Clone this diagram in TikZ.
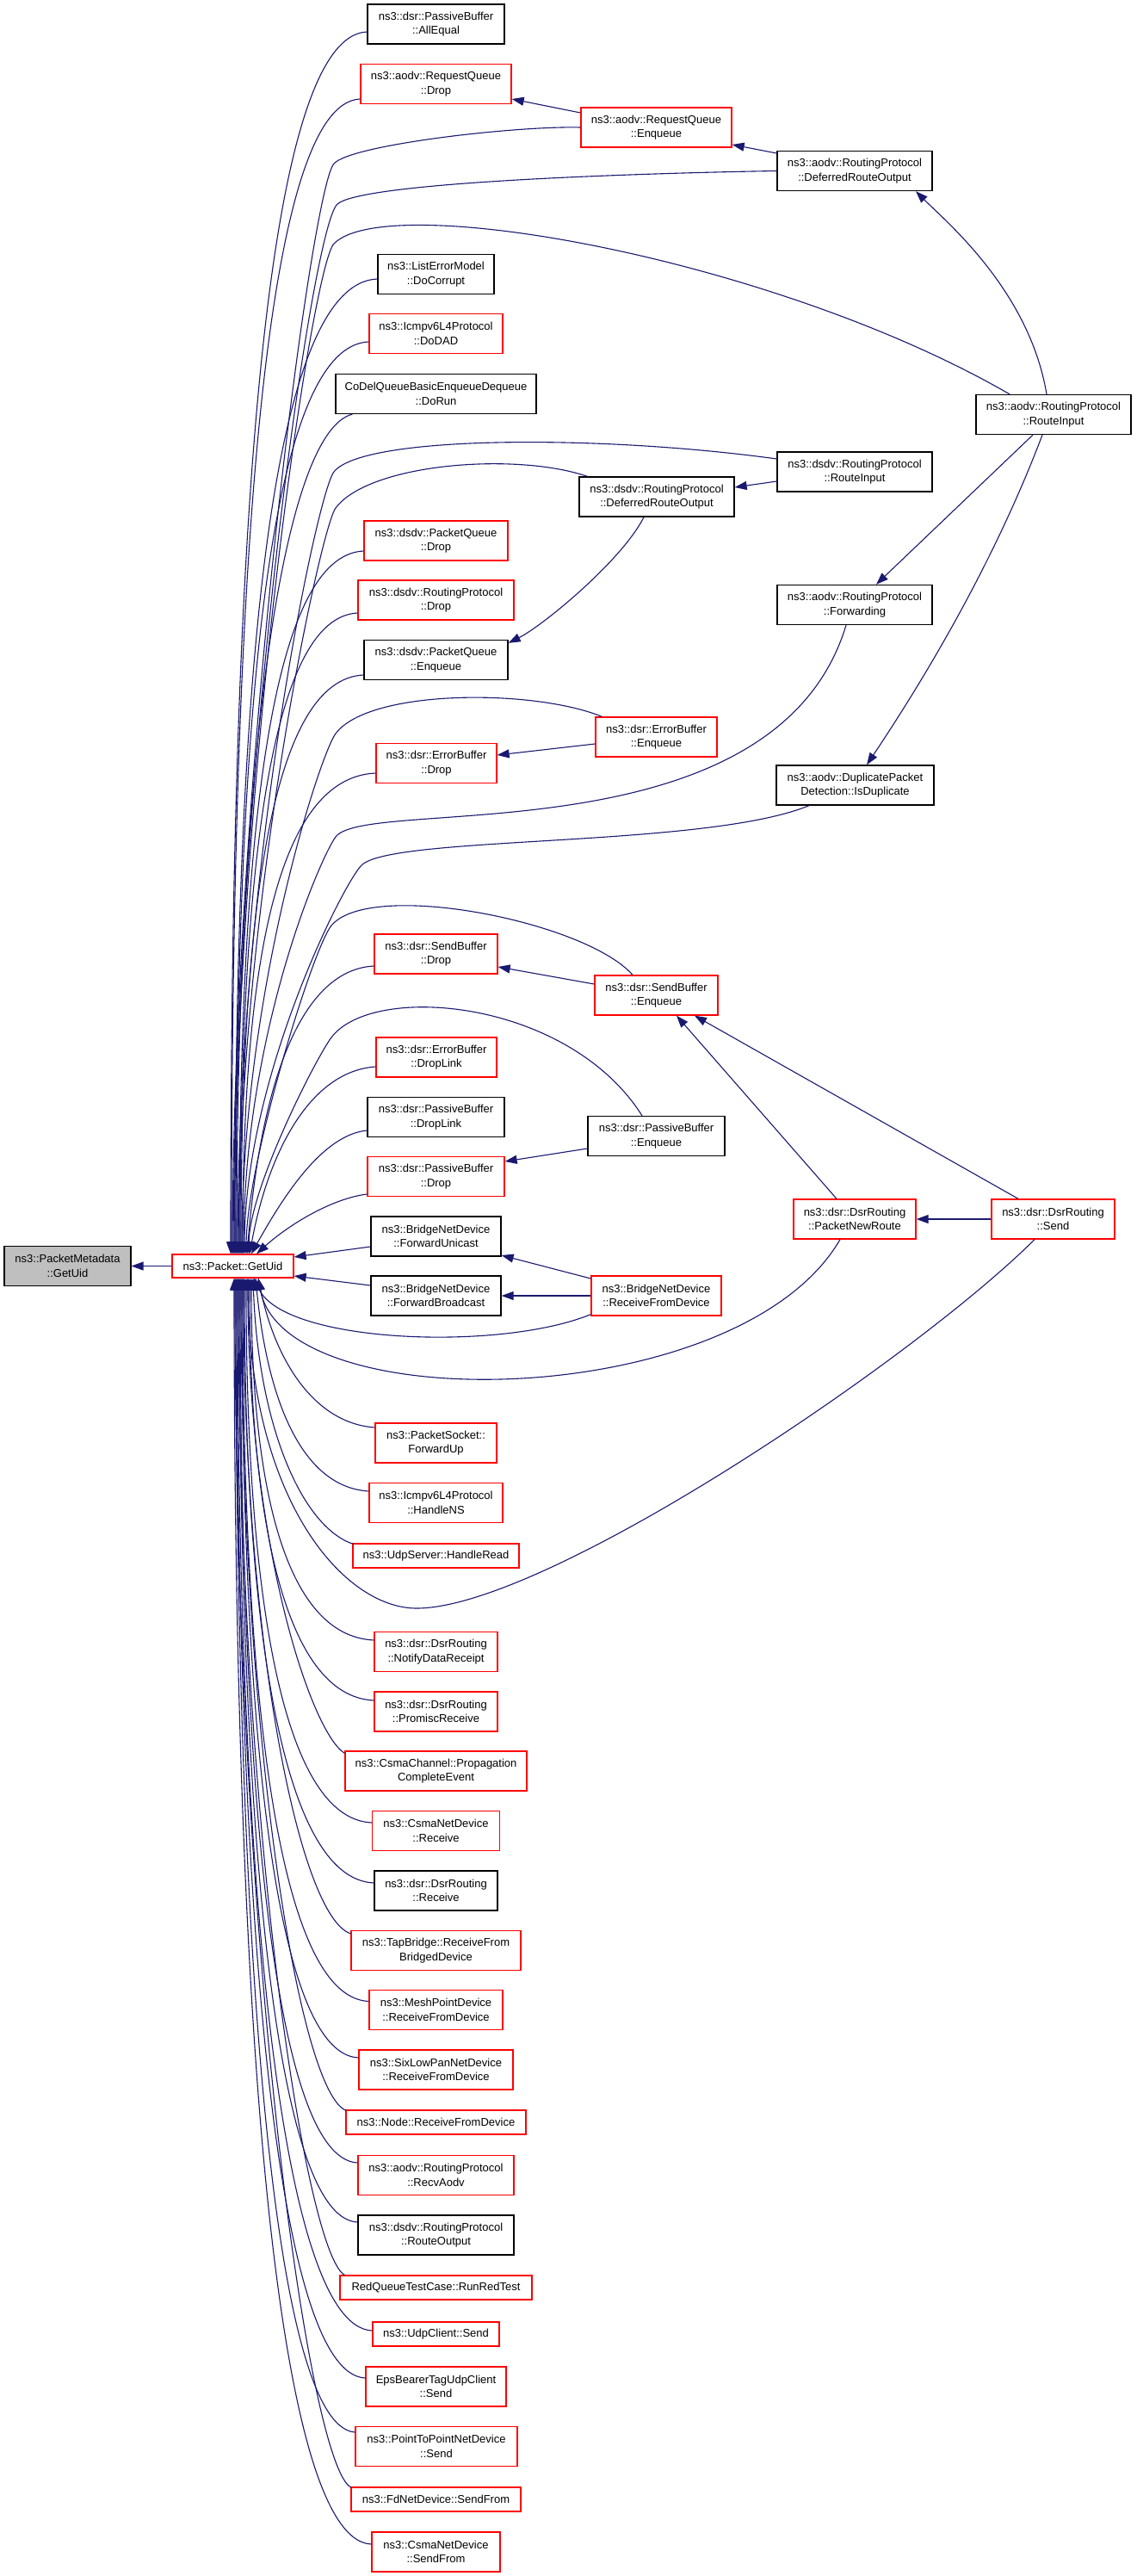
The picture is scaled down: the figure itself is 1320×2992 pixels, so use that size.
\documentclass[tikz,border=0pt]{standalone}
\usepackage{fontspec}
\setmainfont{Liberation Sans}
\usetikzlibrary{arrows.meta}
\definecolor{edgeblue}{HTML}{191970}
\definecolor{nodegray}{HTML}{BFBFBF}
\definecolor{nodered}{HTML}{FF0000}
\begin{document}
\begin{tikzpicture}[x=1pt,y=-1pt,
  box/.style={draw=black, fill=white, line width=1.3pt, inner sep=0pt, align=center, font=\fontsize{13}{16.5}\selectfont},
  rbox/.style={box, draw=nodered},
  gbox/.style={box, fill=nodegray},
  edg/.style={draw=edgeblue, line width=1.1pt, {Triangle[length=14pt,width=10pt]}-},
]
\fill[white] (0,0) rectangle (1320,2992);
\useasboundingbox (0,0) rectangle (1320,2992);

% nodes
\node[box, minimum width=159pt, minimum height=46pt] (allequal) at (506.5,28) {ns3::dsr::PassiveBuffer\\::AllEqual};
\node[rbox, minimum width=175pt, minimum height=46pt] (rqdrop) at (506.5,97.5) {ns3::aodv::RequestQueue\\::Drop};
\node[rbox, minimum width=175pt, minimum height=46pt] (rqenq) at (762.5,148) {ns3::aodv::RequestQueue\\::Enqueue};
\node[box, minimum width=180pt, minimum height=46pt] (aodvdro) at (993,198.5) {ns3::aodv::RoutingProtocol\\::DeferredRouteOutput};
\node[box, minimum width=135pt, minimum height=46pt] (docorrupt) at (506.5,318.5) {ns3::ListErrorModel\\::DoCorrupt};
\node[rbox, minimum width=155pt, minimum height=46pt] (dodad) at (506.5,387.5) {ns3::Icmpv6L4Protocol\\::DoDAD};
\node[box, minimum width=233pt, minimum height=46pt] (dorun) at (506.5,457.5) {CoDelQueueBasicEnqueueDequeue\\::DoRun};
\node[box, minimum width=180pt, minimum height=46pt] (aodvri) at (1224,481.5) {ns3::aodv::RoutingProtocol\\::RouteInput};
\node[box, minimum width=180pt, minimum height=46pt] (dsdvri) at (993,548) {ns3::dsdv::RoutingProtocol\\::RouteInput};
\node[box, minimum width=180pt, minimum height=46pt] (dsdvdro) at (763,577) {ns3::dsdv::RoutingProtocol\\::DeferredRouteOutput};
\node[rbox, minimum width=167pt, minimum height=46pt] (dsdvpqdrop) at (506.5,628) {ns3::dsdv::PacketQueue\\::Drop};
\node[rbox, minimum width=181pt, minimum height=46pt] (dsdvrpdrop) at (506.5,697) {ns3::dsdv::RoutingProtocol\\::Drop};
\node[box, minimum width=180pt, minimum height=46pt] (forwarding) at (993,702.5) {ns3::aodv::RoutingProtocol\\::Forwarding};
\node[box, minimum width=167pt, minimum height=46pt] (dsdvpqenq) at (506.5,766.5) {ns3::dsdv::PacketQueue\\::Enqueue};
\node[rbox, minimum width=141pt, minimum height=46pt] (ebenq) at (762.5,856) {ns3::dsr::ErrorBuffer\\::Enqueue};
\node[rbox, minimum width=140pt, minimum height=46pt] (ebdrop) at (507,886.5) {ns3::dsr::ErrorBuffer\\::Drop};
\node[box, minimum width=183pt, minimum height=46pt] (isdup) at (993.5,912) {ns3::aodv::DuplicatePacket\\Detection::IsDuplicate};
\node[rbox, minimum width=143pt, minimum height=46pt] (sbdrop) at (506.5,1108) {ns3::dsr::SendBuffer\\::Drop};
\node[rbox, minimum width=143pt, minimum height=46pt] (sbenq) at (762.5,1156) {ns3::dsr::SendBuffer\\::Enqueue};
\node[rbox, minimum width=140pt, minimum height=46pt] (ebdroplink) at (507,1228) {ns3::dsr::ErrorBuffer\\::DropLink};
\node[box, minimum width=159pt, minimum height=46pt] (pbdroplink) at (506.5,1297.5) {ns3::dsr::PassiveBuffer\\::DropLink};
\node[box, minimum width=159pt, minimum height=46pt] (pbenq) at (762.5,1319.5) {ns3::dsr::PassiveBuffer\\::Enqueue};
\node[rbox, minimum width=159pt, minimum height=46pt] (pbdrop) at (506.5,1366.5) {ns3::dsr::PassiveBuffer\\::Drop};
\node[box, minimum width=151pt, minimum height=46pt] (fwdu) at (506.5,1436) {ns3::BridgeNetDevice\\::ForwardUnicast};
\node[rbox, minimum width=142pt, minimum height=46pt] (pnr) at (993,1416) {ns3::dsr::DsrRouting\\::PacketNewRoute};
\node[rbox, minimum width=143pt, minimum height=46pt] (send) at (1223.5,1416) {ns3::dsr::DsrRouting\\::Send};
\node[box, minimum width=151pt, minimum height=46pt] (fwdb) at (506.5,1505) {ns3::BridgeNetDevice\\::ForwardBroadcast};
\node[rbox, minimum width=151pt, minimum height=46pt] (rfd) at (762.5,1505) {ns3::BridgeNetDevice\\::ReceiveFromDevice};
\node[gbox, minimum width=147pt, minimum height=46pt] (pm) at (78.5,1470.5) {ns3::PacketMetadata\\::GetUid};
\node[rbox, minimum width=141pt, minimum height=27pt] (pg) at (270.5,1470.5) {ns3::Packet::GetUid};
\node[rbox, minimum width=141pt, minimum height=46pt] (forwardup) at (506.5,1676) {ns3::PacketSocket::\\ForwardUp};
\node[rbox, minimum width=155pt, minimum height=46pt] (handlens) at (506.5,1745.5) {ns3::Icmpv6L4Protocol\\::HandleNS};
\node[rbox, minimum width=193pt, minimum height=28pt] (handleread) at (506.5,1807) {ns3::UdpServer::HandleRead};
\node[rbox, minimum width=143pt, minimum height=46pt] (notify) at (506.5,1918.5) {ns3::dsr::DsrRouting\\::NotifyDataReceipt};
\node[rbox, minimum width=143pt, minimum height=46pt] (promisc) at (506.5,1988) {ns3::dsr::DsrRouting\\::PromiscReceive};
\node[rbox, minimum width=211pt, minimum height=46pt] (csmachan) at (506.5,2057) {ns3::CsmaChannel::Propagation\\CompleteEvent};
\node[rbox, minimum width=148pt, minimum height=46pt] (csmarecv) at (506.5,2126.5) {ns3::CsmaNetDevice\\::Receive};
\node[box, minimum width=143pt, minimum height=46pt] (dsrrecv) at (506.5,2196) {ns3::dsr::DsrRouting\\::Receive};
\node[rbox, minimum width=197pt, minimum height=46pt] (tap) at (506.5,2265.5) {ns3::TapBridge::ReceiveFrom\\BridgedDevice};
\node[rbox, minimum width=155pt, minimum height=46pt] (mesh) at (506.5,2334.5) {ns3::MeshPointDevice\\::ReceiveFromDevice};
\node[rbox, minimum width=179pt, minimum height=46pt] (sixlow) at (506.5,2404) {ns3::SixLowPanNetDevice\\::ReceiveFromDevice};
\node[rbox, minimum width=209pt, minimum height=28pt] (noderfd) at (506.5,2465) {ns3::Node::ReceiveFromDevice};
\node[rbox, minimum width=181pt, minimum height=46pt] (recvaodv) at (506.5,2526.5) {ns3::aodv::RoutingProtocol\\::RecvAodv};
\node[box, minimum width=181pt, minimum height=46pt] (routeout) at (506.5,2596) {ns3::dsdv::RoutingProtocol\\::RouteOutput};
\node[rbox, minimum width=223pt, minimum height=28pt] (redq) at (506.5,2657) {RedQueueTestCase::RunRedTest};
\node[rbox, minimum width=147pt, minimum height=28pt] (udpclient) at (506.5,2711) {ns3::UdpClient::Send};
\node[rbox, minimum width=163pt, minimum height=46pt] (eps) at (506.5,2772) {EpsBearerTagUdpClient\\::Send};
\node[rbox, minimum width=188pt, minimum height=46pt] (p2p) at (507,2841.5) {ns3::PointToPointNetDevice\\::Send};
\node[rbox, minimum width=197pt, minimum height=28pt] (fdnet) at (506.5,2903) {ns3::FdNetDevice::SendFrom};
\node[rbox, minimum width=149pt, minimum height=46pt] (csmasend) at (506.5,2964) {ns3::CsmaNetDevice\\::SendFrom};

% edges among right-hand nodes
\draw[edg] ([yshift=-17.5pt]rqdrop.east) -- ([yshift=17pt]rqenq.west);
\draw[edg] ([yshift=-20pt]rqenq.east) -- ([yshift=20.5pt]aodvdro.west);
\draw[edg] ([xshift=71pt]aodvdro.south) .. controls +(35,35) and +(-20,-120) .. ([xshift=-8pt]aodvri.north);
\draw[edg] ([xshift=25pt]forwarding.north) -- ([xshift=-24pt]aodvri.south);
\draw[edg] ([xshift=13.5pt]isdup.north) .. controls +(85,-127) and +(-48,127) .. ([xshift=-13pt]aodvri.south);
\draw[edg] ([yshift=11pt]dsdvdro.east) -- ([yshift=-11pt]dsdvri.west);
\draw[edg] ([yshift=-4pt]dsdvpqenq.north east) .. controls +(40,-20) and +(-25,50) .. ([xshift=-15pt]dsdvdro.south);
\draw[edg] ([yshift=9.5pt]ebdrop.east) -- ([yshift=-8pt]ebenq.west);
\draw[edg] ([yshift=-15pt]sbdrop.east) -- ([yshift=13pt]sbenq.west);
\draw[edg] ([xshift=23.5pt]sbenq.south) -- ([xshift=-21pt]pnr.north);
\draw[edg] ([xshift=44.5pt]sbenq.south) -- ([xshift=-40.5pt]send.north);
\draw[edg] (pnr.east) -- (send.west);
\draw[edg] ([yshift=17.5pt]pbdrop.east) -- ([yshift=-14.5pt]pbenq.west);
\draw[edg] ([yshift=-22pt]fwdu.east) -- ([yshift=20pt]rfd.west);
\draw[edg] (fwdb.east) -- (rfd.west);
\draw[edg] (pm.east) -- (pg.west);
\draw[edg] ([yshift=10.5pt]pg.east) -- ([yshift=-12pt]fwdu.west);
\draw[edg] ([yshift=-11.5pt]pg.east) -- ([yshift=12pt]fwdb.west);

% callers above Packet::GetUid
\draw[edg] ([xshift=-2.5pt]pg.north) .. controls +(0,-852) and +(-118,5) .. ([yshift=-9pt]allequal.west);
\draw[edg] ([xshift=-1.5pt]pg.north) .. controls +(0,-805) and +(-111,5) .. ([yshift=-17.5pt]rqdrop.west);
\draw[edg] ([xshift=-0.5pt]pg.north) .. controls (272,900) and (362,218) .. (388,190) .. controls (408,168) and (600,146) .. (rqenq.west);
\draw[edg] ([xshift=0.5pt]pg.north) .. controls (273,900) and (362,263) .. (392,237) .. controls (422,211) and (753,201) .. (aodvdro.west);
\draw[edg] ([xshift=1.5pt]pg.north) .. controls (274,900) and (363,308) .. (388,283) .. controls (450,220) and (900,300) .. ([xshift=-51pt]aodvri.north);
\draw[edg] ([xshift=2.5pt]pg.north) .. controls +(0,-680) and +(-123,5) .. ([yshift=-5.5pt]docorrupt.west);
\draw[edg] ([xshift=3.5pt]pg.north) .. controls +(0,-636) and +(-115,5) .. ([yshift=-9.5pt]dodad.west);
\draw[edg] ([xshift=4.5pt]pg.north) .. controls +(0,-586) and +(-80,20) .. ([xshift=20pt]dorun.south west);
\draw[edg] ([xshift=5.5pt]pg.north) .. controls (278,1000) and (369,571) .. (388,548) .. controls (422,505) and (700,505) .. ([yshift=15pt]dsdvri.west);
\draw[edg] ([xshift=6.5pt]pg.north) .. controls (279,1050) and (372,614) .. (390,590) .. controls (429,538) and (600,525) .. ([xshift=10pt]dsdvdro.north west);
\draw[edg] ([xshift=7.5pt]pg.north) .. controls +(0,-490) and +(-107,5) .. ([yshift=-12pt]dsdvpqdrop.west);
\draw[edg] ([xshift=8.5pt]pg.north) .. controls +(0,-447) and +(-101,5) .. ([yshift=-15pt]dsdvrpdrop.west);
\draw[edg] ([xshift=9.5pt]pg.north) .. controls +(0,-404) and +(-106,5) .. ([yshift=-17.5pt]dsdvpqenq.west);
\draw[edg] ([xshift=10.5pt]pg.north) .. controls (282,1150) and (372,876) .. (390,852) .. controls (429,800) and (620,800) .. ([xshift=8pt]ebenq.north west);
\draw[edg] ([xshift=11.5pt]pg.north) .. controls +(0,-335) and +(-115,5) .. ([yshift=-11.5pt]ebdrop.west);
\draw[edg] ([xshift=12.5pt]pg.north) .. controls (284,1200) and (372,996) .. (390,972) .. controls (426,924) and (900,1000) .. ([xshift=-10pt]forwarding.south);
\draw[edg] ([xshift=13.5pt]pg.north) .. controls (285,1250) and (399,1026) .. (420,1005) .. controls (455,970) and (820,985) .. ([xshift=-53.5pt]isdup.south);
\draw[edg] ([xshift=15.5pt]pg.north) .. controls (287,1350) and (363,1102) .. (385,1075) .. controls (430,1021) and (680,1070) .. ([xshift=-27.5pt]sbenq.north);
\draw[edg] ([xshift=16.5pt]pg.north) .. controls +(15,-184) and +(-90,5) .. ([yshift=-14pt]sbdrop.west);
\draw[edg] ([xshift=18.5pt]pg.north) .. controls (290,1380) and (367,1229) .. (385,1205) .. controls (433,1141) and (660,1160) .. ([xshift=-16.5pt]pbenq.north);
\draw[edg] ([xshift=19.5pt]pg.north) .. controls +(22,-120) and +(-75,5) .. ([yshift=-11pt]ebdroplink.west);
\draw[edg] ([xshift=21.5pt]pg.north) .. controls +(40,-72) and +(-50,5) .. ([yshift=-15.5pt]pbdroplink.west);
\draw[edg] ([xshift=27.5pt]pg.north) .. controls +(39,-35) and +(-40,5) .. ([yshift=-20.5pt]pbdrop.west);

% callers below Packet::GetUid
\draw[edg] ([xshift=24.5pt]pg.south) .. controls (330,1560) and (580,1570) .. ([yshift=2pt]rfd.south west);
\draw[edg] ([xshift=29.5pt]pg.south) .. controls (330,1650) and (860,1640) .. ([xshift=-17pt]pnr.south);
\draw[edg] ([xshift=17.5pt]pg.south) .. controls (290,1744) and (400,1868) .. (484,1868) .. controls (634,1868) and (1062,1579) .. ([xshift=-21.5pt]send.south);
\draw[edg] ([xshift=29.5pt]pg.south) .. controls +(20,96) and +(-70,-5) .. ([yshift=18pt]forwardup.west);
\draw[edg] ([xshift=26.5pt]pg.south) .. controls +(13,136) and +(-80,-5) .. ([yshift=13.5pt]handlens.west);
\draw[edg] ([xshift=23.5pt]pg.south) .. controls +(6,170) and +(-60,-20) .. ([xshift=1pt,yshift=-1pt]handleread.north west);
\draw[edg] ([xshift=21.5pt]pg.south) .. controls +(0,232) and +(-106,-5) .. ([yshift=13.5pt]notify.west);
\draw[edg] ([xshift=19.5pt]pg.south) .. controls +(0,270) and +(-106,-5) .. ([yshift=13pt]promisc.west);
\draw[edg] ([xshift=17.5pt]pg.south) .. controls +(0,304) and +(-40,-25) .. ([yshift=-3pt]csmachan.north west);
\draw[edg] ([xshift=15.5pt]pg.south) .. controls +(0,348) and +(-108,-5) .. ([yshift=9.5pt]csmarecv.west);
\draw[edg] ([xshift=13.5pt]pg.south) .. controls +(0,387) and +(-110,-5) .. ([yshift=9pt]dsrrecv.west);
\draw[edg] ([xshift=12.5pt]pg.south) .. controls +(0,420) and +(-60,-20) .. ([yshift=-4pt]tap.north west);
\draw[edg] ([xshift=11.5pt]pg.south) .. controls +(0,462) and +(-109,-5) .. ([yshift=10pt]mesh.west);
\draw[edg] ([xshift=10.5pt]pg.south) .. controls +(0,500) and +(-100,-5) .. ([yshift=14pt]sixlow.west);
\draw[edg] ([xshift=9.5pt]pg.south) .. controls +(0,532) and +(-55,-20) .. ([xshift=1pt,yshift=-1pt]noderfd.north west);
\draw[edg] ([xshift=8.5pt]pg.south) .. controls +(0,565) and +(-100,-5) .. ([yshift=14.5pt]recvaodv.west);
\draw[edg] ([xshift=7.5pt]pg.south) .. controls +(0,603) and +(-100,-5) .. ([yshift=15pt]routeout.west);
\draw[edg] ([xshift=6.5pt]pg.south) .. controls +(0,637) and +(-45,-25) .. ([xshift=6pt]redq.north west);
\draw[edg] ([xshift=5.5pt]pg.south) .. controls +(0,672) and +(-110,-5) .. ([yshift=4pt]udpclient.west);
\draw[edg] ([xshift=4.5pt]pg.south) .. controls +(0,703) and +(-108,-5) .. ([yshift=10pt]eps.west);
\draw[edg] ([xshift=3.5pt]pg.south) .. controls +(0,737) and +(-100,-8) .. ([yshift=16.5pt]p2p.west);
\draw[edg] ([xshift=2.5pt]pg.south) .. controls +(0,773) and +(-50,-22) .. ([xshift=1pt,yshift=-1pt]fdnet.north west);
\draw[edg] ([xshift=1.5pt]pg.south) .. controls +(0,809) and +(-117,-5) .. ([yshift=9pt]csmasend.west);
\end{tikzpicture}
\end{document}
